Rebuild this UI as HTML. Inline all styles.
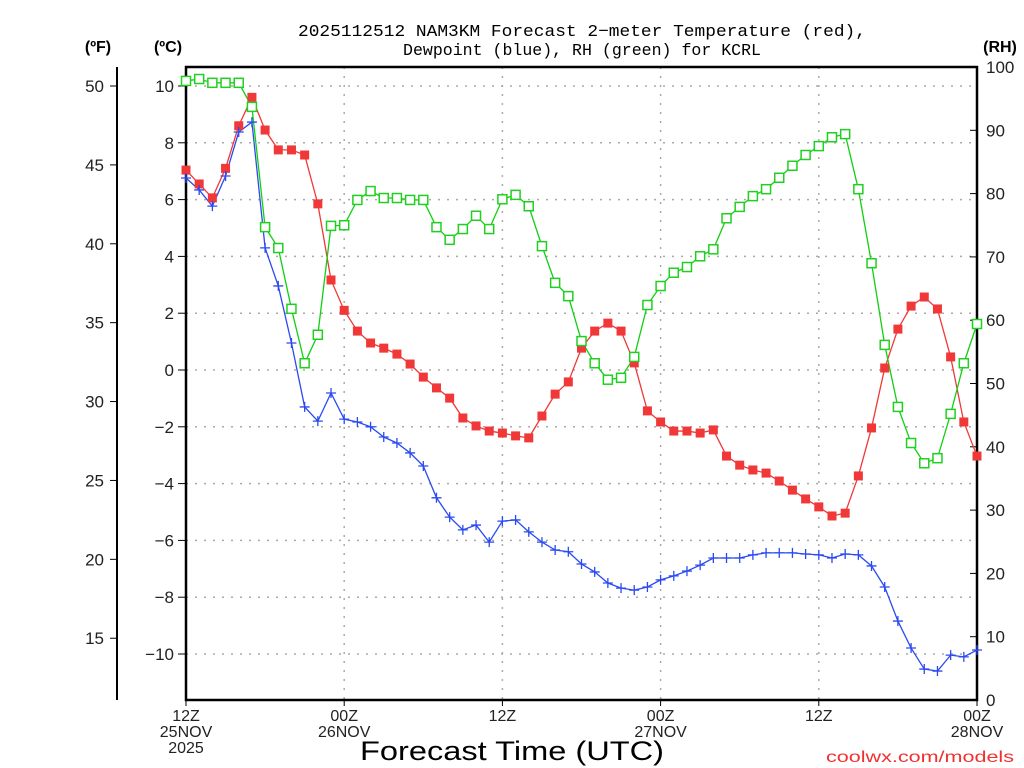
<!DOCTYPE html>
<html><head><meta charset="utf-8"><style>
html,body{margin:0;padding:0;background:#fff;}
svg{display:block;font-family:"Liberation Sans",sans-serif;}
</style></head><body>
<svg id="chart" width="1024" height="768" viewBox="0 0 1024 768" xmlns="http://www.w3.org/2000/svg">
<text x="582" y="36" font-size="17" font-family="Liberation Mono, monospace" text-anchor="middle" textLength="568" lengthAdjust="spacingAndGlyphs">2025112512 NAM3KM Forecast 2−meter Temperature (red),</text>
<text x="582" y="55" font-size="17" font-family="Liberation Mono, monospace" text-anchor="middle" textLength="358" lengthAdjust="spacingAndGlyphs">Dewpoint (blue), RH (green) for KCRL</text>
<text x="98" y="52" font-size="16" font-weight="bold" text-anchor="middle">(ºF)</text>
<text x="168" y="52" font-size="16" font-weight="bold" text-anchor="middle">(ºC)</text>
<text x="1000" y="52" font-size="16" font-weight="bold" text-anchor="middle">(RH)</text>
<text x="360" y="760" font-size="27" textLength="304" lengthAdjust="spacingAndGlyphs">Forecast Time (UTC)</text>
<text x="826" y="762" font-size="16" fill="#f03030" textLength="188" lengthAdjust="spacingAndGlyphs">coolwx.com/models</text>
<g id="grid"></g><g id="axes"></g><g id="series"></g>
</svg>
<script>
const hours = [];
for (let i = 0; i <= 60; i++) hours.push(i);
const tempC = [7.04,6.55,6.06,7.1,8.6,9.6,8.45,7.75,7.75,7.57,5.85,3.17,2.1,1.37,0.95,0.77,0.56,0.21,-0.25,-0.63,-0.99,-1.69,-1.97,-2.15,-2.22,-2.32,-2.39,-1.62,-0.85,-0.42,0.77,1.37,1.65,1.37,0.25,-1.44,-1.83,-2.15,-2.15,-2.22,-2.11,-3.03,-3.35,-3.52,-3.63,-3.91,-4.23,-4.54,-4.82,-5.14,-5.04,-3.73,-2.04,0.07,1.44,2.25,2.57,2.15,0.46,-1.83,-3.03];
const dewC = [6.76,6.34,5.77,6.83,8.38,8.73,4.3,2.96,0.95,-1.3,-1.8,-0.81,-1.73,-1.83,-2.0,-2.36,-2.57,-2.92,-3.38,-4.5,-5.18,-5.63,-5.46,-6.06,-5.32,-5.28,-5.7,-6.06,-6.34,-6.4,-6.83,-7.11,-7.5,-7.68,-7.75,-7.64,-7.39,-7.25,-7.08,-6.87,-6.62,-6.62,-6.62,-6.51,-6.44,-6.44,-6.44,-6.48,-6.51,-6.62,-6.48,-6.51,-6.9,-7.64,-8.84,-9.79,-10.53,-10.6,-10.04,-10.1,-9.86];
const rhPct = [97.8,98.1,97.5,97.5,97.5,93.7,74.7,71.4,61.8,53.2,57.7,74.9,75.0,79.0,80.4,79.3,79.3,79.0,79.0,74.7,72.7,74.4,76.5,74.4,79.1,79.8,78.0,71.7,65.9,63.8,56.7,53.2,50.6,50.9,54.2,62.4,65.4,67.5,68.4,70.1,71.2,76.1,77.9,79.6,80.7,82.5,84.4,86.1,87.5,88.9,89.4,80.7,69.0,56.1,46.3,40.6,37.4,38.2,45.2,53.2,59.4];
const cTicks = [10,8,6,4,2,0,-2,-4,-6,-8,-10];
const cTickLabels = ["10","8","6","4","2","0","−2","−4","−6","−8","−10"];
const fTicks = [50,45,40,35,30,25,20,15];
const rhTicks = [0,10,20,30,40,50,60,70,80,90,100];
const xTickHours = [0,12,24,36,48,60];
const xTickLines1 = ["12Z","00Z","12Z","00Z","12Z","00Z"];
const xTickLines2 = ["25NOV","26NOV","","27NOV","","28NOV"];
const xTickLines3 = ["2025","","","","",""];

const X0=186,X1=977,Y0=67,Y1=700;
const xs = h => X0 + (h/60)*(X1-X0);
const yC = c => 370 - c*28.4;
const yF = f => yC((f-32)*5/9);
const yRH = r => Y1 - (r/100)*(Y1-Y0);
const NS="http://www.w3.org/2000/svg";
function mk(tag, parent, attrs){const e=document.createElementNS(NS,tag);for(const k in attrs)e.setAttribute(k,attrs[k]);parent.appendChild(e);return e;}
const grid=document.getElementById('grid'), axes=document.getElementById('axes'), series=document.getElementById('series');

cTicks.forEach((c,i)=>{
  const y=yC(c);
  const g=mk('line',grid,{x1:X0,x2:X1,y1:y,y2:y,stroke:'#aaa','stroke-width':1.5,'stroke-dasharray':'2,7'});
  
  
  const t=mk('line',axes,{x1:X0-8,x2:X0,y1:y,y2:y,stroke:'#000','stroke-width':1});
  
  
  const l=mk('text',axes,{x:X0-12,y:y+6,'font-size':17,'text-anchor':'end',fill:'#222'});
  l.textContent=cTickLabels[i];
  
  
});
xTickHours.forEach((h,i)=>{
  const x=xs(h);
  if(h>0&&h<60){const g=mk('line',grid,{x1:x,x2:x,y1:Y0,y2:Y1,stroke:'#aaa','stroke-width':1.5,'stroke-dasharray':'2,7'});
  
  }
  const t=mk('line',axes,{x1:x,x2:x,y1:Y1,y2:Y1+6,stroke:'#000','stroke-width':1});
  
  
  [xTickLines1[i],xTickLines2[i],xTickLines3[i]].forEach((s,j)=>{
    if(!s)return;
    const l=mk('text',axes,{x:x,y:721+j*16,'font-size':16,'text-anchor':'middle',fill:'#222'});
    l.textContent=s;
    
    
  });
});
const fl=mk('line',axes,{x1:117,x2:117,y1:Y0,y2:Y1,stroke:'#000','stroke-width':2});


fTicks.forEach(f=>{
  const y=yF(f);
  const t=mk('line',axes,{x1:110,x2:117,y1:y,y2:y,stroke:'#000','stroke-width':1});
  
  
  const l=mk('text',axes,{x:104,y:y+6,'font-size':17,'text-anchor':'end',fill:'#222'});
  l.textContent=String(f);
  
  
});
rhTicks.forEach(r=>{
  const y=yRH(r);
  const t=mk('line',axes,{x1:X1-7,x2:X1,y1:y,y2:y,stroke:'#000','stroke-width':1});
  
  
  const l=mk('text',axes,{x:986,y:y+6,'font-size':17,'text-anchor':'start',fill:'#222'});
  l.textContent=String(r);
  
  
});
const frame=mk('rect',axes,{x:X0,y:Y0,width:X1-X0,height:Y1-Y0,fill:'none',stroke:'#000','stroke-width':2.5});



function line(vals,yf,color,name){
  const p=mk('polyline',series,{points:vals.map((v,i)=>xs(hours[i])+','+yf(v)).join(' '),fill:'none',stroke:color,'stroke-width':1.3});
  
  
}
line(tempC,yC,'#f03838','temperature-line');
line(dewC,yC,'#2a4af0','dewpoint-line');
line(rhPct,yRH,'#10d010','rh-line');
tempC.forEach((v,i)=>{
  const r=mk('rect',series,{x:xs(hours[i])-4.5,y:yC(v)-4.5,width:9,height:9,fill:'#f03838'});
  
  
});
dewC.forEach((v,i)=>{
  const x=xs(hours[i]),y=yC(v);
  const p=mk('path',series,{d:`M${x-5},${y}H${x+5}M${x},${y-5}V${y+5}`,stroke:'#2a4af0','stroke-width':1.3});
  
  
});
rhPct.forEach((v,i)=>{
  const r=mk('rect',series,{x:xs(hours[i])-4.5,y:yRH(v)-4.5,width:9,height:9,fill:'#fff',stroke:'#20d020','stroke-width':1.5});
  
  
});
</script>
</body></html>
